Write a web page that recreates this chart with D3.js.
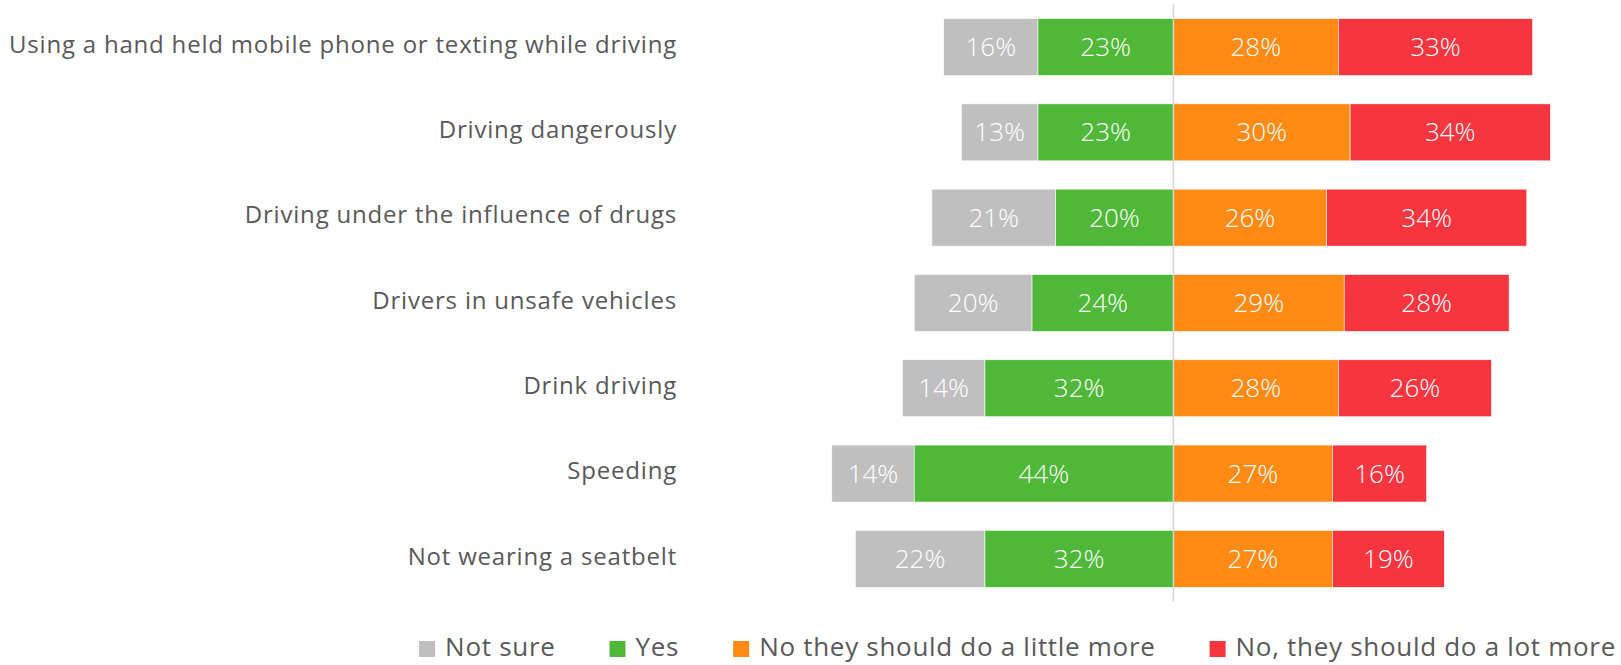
<!DOCTYPE html>
<html>
<head>
<meta charset="utf-8">
<script src="https://cdn.jsdelivr.net/npm/d3@7"></script>
<style>
  html, body { margin: 0; padding: 0; background: #fff; }
  svg { display: block; }
  text { font-family: "Open Sans", Lato, sans-serif; }
</style>
</head>
<body>
<svg id="chart" width="1621" height="665"></svg>
<script>
// Survey behaviours, top to bottom
const categories = [
  "Using a hand held mobile phone or texting while driving",
  "Driving dangerously",
  "Driving under the influence of drugs",
  "Drivers in unsafe vehicles",
  "Drink driving",
  "Speeding",
  "Not wearing a seatbelt"
];

// Response series (percent)
const notSure    = [16, 13, 21, 20, 14, 14, 22];
const yes        = [23, 23, 20, 24, 32, 44, 32];
const littleMore = [28, 30, 26, 29, 28, 27, 27];
const lotMore    = [33, 34, 34, 28, 26, 16, 19];

const seriesNames  = ["Not sure", "Yes", "No they should do a little more", "No, they should do a lot more"];
const seriesColors = ["#bfbfbf", "#4fb838", "#ff8a14", "#f7353f"];

const svg = d3.select("#chart");

// Diverging axis: "Not sure" + "Yes" to the left of zero, the two "No" answers to the right
const x = d3.scaleLinear().domain([-50, 60]).range([1173.4 - 50 * 5.89, 1173.4 + 60 * 5.89]);
const y = d3.scaleBand().domain(categories).range([4.4, 601.5]).paddingInner(0.332).paddingOuter(0.166);

const rows = categories.map((c, i) => {
  const vals = [notSure[i], yes[i], littleMore[i], lotMore[i]];
  const segs = [
    { s: 0, x0: -(yes[i] + notSure[i]), x1: -yes[i] },
    { s: 1, x0: -yes[i], x1: 0 },
    { s: 2, x0: 0, x1: littleMore[i] },
    { s: 3, x0: littleMore[i], x1: littleMore[i] + lotMore[i] }
  ].map(d => ({ ...d, v: vals[d.s], cat: c }));
  return { cat: c, segs };
});

const g = svg.append("g");

const rowG = g.selectAll("g.row").data(rows).join("g").attr("class", "row");

rowG.selectAll("rect").data(d => d.segs).join("rect")
  .attr("x", d => x(d.x0))
  .attr("width", d => x(d.x1) - x(d.x0))
  .attr("y", d => y(d.cat))
  .attr("height", y.bandwidth())
  .attr("fill", d => seriesColors[d.s])
  .attr("stroke", "#fff")
  .attr("stroke-width", 0.6);

rowG.selectAll("text.val").data(d => d.segs).join("text")
  .attr("class", "val")
  .attr("x", d => (x(d.x0) + x(d.x1)) / 2)
  .attr("y", d => y(d.cat) + y.bandwidth() / 2 + 2)
  .attr("text-anchor", "middle")
  .attr("dominant-baseline", "middle")
  .attr("fill", "#fff")
  .attr("font-size", 26)
  .attr("font-weight", 300)
  .text(d => d.v + "%");

// Zero line
g.append("line")
  .attr("x1", x(0)).attr("x2", x(0))
  .attr("y1", y.range()[0]).attr("y2", y.range()[1])
  .attr("stroke", "#d4d4d4")
  .attr("stroke-width", 1.5);

// Category axis labels
const yAxis = d3.axisLeft(y).tickSize(0).tickPadding(0);
const axG = g.append("g").attr("transform", "translate(677,-2)").call(yAxis);
axG.select(".domain").remove();
axG.selectAll("text")
  .attr("fill", "#595959")
  .attr("font-size", 24)
  .attr("letter-spacing", 0.8)
  .attr("font-family", "\"Open Sans\", Lato, sans-serif");

// Legend, right-aligned along the bottom
const legend = svg.append("g").attr("transform", "translate(0,648)");
const items = legend.selectAll("g").data(seriesNames).join("g");
items.append("rect")
  .attr("width", 16).attr("height", 16).attr("y", -7)
  .attr("fill", (d, i) => seriesColors[i]);
items.append("text")
  .attr("x", 26).attr("y", 1).attr("dominant-baseline", "middle")
  .attr("fill", "#595959").attr("font-size", 26)
  .attr("letter-spacing", 0.7)
  .text(d => d);

const gap = 54;
let cursor = 1616;
const widths = [];
items.each(function () { widths.push(26 + d3.select(this).select("text").node().getComputedTextLength()); });
const pos = [];
for (let i = widths.length - 1; i >= 0; i--) { cursor -= widths[i]; pos[i] = cursor; cursor -= gap; }
items.attr("transform", (d, i) => `translate(${pos[i]},0)`);
</script>
</body>
</html>
